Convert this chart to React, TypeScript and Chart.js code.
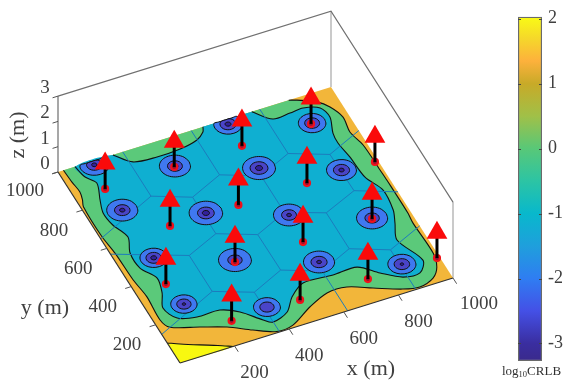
import React, { useEffect, useRef } from "react";
import { Chart, registerables } from "chart.js";

Chart.register(...registerables);

// ---------- axis ticks ----------
const xTicks = [200, 400, 600, 800, 1000];
const yTicks = [200, 400, 600, 800, 1000];
const zTicks = [0, 1, 2, 3];
const barTicks = [-3, -2, -1, 0, 1, 2];

// ---------- anchors (m) ----------
const anchorX = [240, 490, 738, 990, 111, 365, 612, 868, 237, 487, 739, 988, 111, 365, 613, 867];
const anchorY = [114, 112, 111, 109, 364, 366, 361, 368, 612, 611, 613, 613, 862, 864, 864, 866];
const anchorZ = 1;

// ---------- low-CRLB spots (m) ----------
const spotX = [127, 375, 622, 871, 125, 369, 622, 870, 122, 372, 622, 870, 125, 369, 613, 872];
const spotY = [252, 126, 252, 130, 495, 375, 498, 372, 746, 620, 744, 623, 982, 867, 978, 868];
const spotR2 = [44, 45, 52, 47, 46, 55, 52, 52, 52, 56, 55, 50, 50, 52, 48, 46];
const spotR3 = [24, 24, 27, 26, 26, 24, 25, 24, 26, 28, 30, 27, 26, 25, 27, 25];
const spotR4 = [6, 0, 8, 6, 10, 8, 8, 8, 9, 12, 12, 9, 9, 10, 10, 8];
const ringUX = [1, 0.87, 0.5, 0, -0.5, -0.87, -1, -0.87, -0.5, 0, 0.5, 0.87, 1];
const ringUY = [0, 0.5, 0.87, 1, 0.87, 0.5, 0, -0.5, -0.87, -1, -0.87, -0.5, 0];

// ---------- contours (m) ----------
const yellowX = [0, 37, 96, 150, 195];
const yellowY = [105, 83, 52, 25, 0];

const greenX = [20, 23, 28, 20, 10, 8, 16, 19, 28, 23, 39, 131, 214, 287, 357, 419, 506, 586, 658, 736, 825, 881, 939, 972, 988, 985, 989, 989, 988, 985, 970, 978, 958, 928, 870, 845];
const greenY = [1000, 937, 883, 844, 814, 660, 567, 426, 335, 215, 170, 130, 93, 45, 6, 12, 68, 106, 105, 65, 20, 6, 27, 70, 136, 294, 345, 518, 571, 703, 778, 852, 914, 954, 989, 1000];

const tealMainX = [710, 760, 824, 874, 926, 938, 916, 912, 921, 928, 958, 950, 930, 903, 943, 909, 849, 787, 728, 639, 532, 471, 427, 364, 338, 283, 225, 142, 79, 55, 82, 96, 63, 62, 87, 64, 58, 74, 97, 73, 62];
const tealMainY = [1000, 939, 942, 946, 923, 870, 796, 746, 669, 560, 479, 378, 319, 242, 119, 67, 72, 121, 178, 176, 182, 136, 77, 52, 75, 141, 177, 178, 200, 263, 330, 402, 469, 548, 621, 694, 760, 821, 899, 941, 1000];
const tealBumpX = [201, 249, 332, 418, 487, 521, 531];
const tealBumpY = [1000, 942, 931, 934, 951, 978, 1000];

// ---------- cell edges (m) ----------
const cellChains: number[][][] = [
  [[0, 238, 365, 489, 614, 740, 864, 1000], [150, 269, 208, 269, 208, 269, 208, 273]],
  [[0, 238, 362, 488, 613, 740, 868, 1000], [570, 457, 516, 455, 516, 457, 516, 451]],
  [[0, 237, 362, 488, 613, 739, 865, 1000], [650, 768, 707, 768, 707, 768, 707, 772]],
  [[365, 365], [0, 208]], [[614, 614], [0, 208]], [[864, 864], [0, 208]],
  [[238, 238], [269, 457]], [[489, 488], [269, 455]], [[740, 740], [269, 457]],
  [[362, 362], [516, 707]], [[613, 613], [516, 707]], [[868, 865], [516, 707]],
  [[237, 237], [768, 1000]], [[488, 488], [768, 1000]], [[739, 739], [768, 1000]],
];

// ---------- colour bar ----------
const barStops = [-3.27, -3, -2.5, -2, -1.5, -1, -0.5, 0, 0.5, 1, 1.35, 1.7, 2.03];
const barColors = ["#3a2a8c", "#3a2ea0", "#4450e6", "#2f7df2", "#1f9fdc", "#08b8cc", "#2cc4a4", "#58c878", "#a0c048", "#c8aa28", "#fdb13c", "#f5d82a", "#f9fb15"];

// ---------- colours ----------
const cOrange = "#f2b63a";
const cYellow = "#f8f810";
const cGreen = "#5bc97a";
const cTeal = "#0fafd1";
const cBlue = "#3f78f0";
const cIndigo = "#4a44c8";
const cDark = "#32209a";
const cCell = "#1c7cbd";
const cText = "#404040";

// ---------- 3-D view ----------
const view = { ox: 180, oy: 363, xx: 0.273, xy: -0.085, yx: -0.122, yy: -0.191, zy: -25.3 };
const project = (x: number, y: number, z = 0) => ({
  x: view.ox + view.xx * x + view.yx * y,
  y: view.oy + view.xy * x + view.yy * y + view.zy * z,
});
const path = (xs: number[], ys: number[], z = 0) => xs.map((x, i) => project(x, ys[i], z));
const SERIF = '"Liberation Serif"';

function mainDatasets() {
  const list: any[] = [];
  const area = (pts: any[], color: string, tension = 0.3) =>
    list.push({ data: pts, showLine: true, fill: "shape", backgroundColor: color, borderWidth: 0, borderColor: "rgba(0,0,0,0)", pointRadius: 0, tension });
  const line = (pts: any[], color: string, width: number, tension = 0) =>
    list.push({ data: pts, showLine: true, fill: false, borderColor: color, borderWidth: width, pointRadius: 0, tension });

  // box
  line([project(0, 1000, 0), project(0, 1000, 3)], "#8a8a8a", 1.5);
  line([project(1000, 1000, 0), project(1000, 1000, 3)], "#b8b8b8", 1.5);
  line([project(1000, 0, 0), project(1000, 0, 3)], "#b8b8b8", 1.5);
  line([project(0, 1000, 3), project(1000, 1000, 3), project(1000, 0, 3)], "#707070", 1.2);

  // surface
  area(path([0, 1000, 1000, 0], [0, 0, 1000, 1000]), cOrange, 0);
  area(path(yellowX.concat([0, 0]), yellowY.concat([0, 0])), cYellow);
  line(path(yellowX, yellowY), "#111", 1.1, 0.3);
  area(path(greenX, greenY), cGreen);
  line(path(greenX, greenY), "#111", 1.1, 0.3);
  area(path(tealMainX.concat(tealBumpX), tealMainY.concat(tealBumpY)), cTeal);
  line(path(tealMainX, tealMainY), "#111", 1.1, 0.3);
  line(path(tealBumpX, tealBumpY), "#111", 1.1, 0.3);

  cellChains.forEach(([xs, ys]) => line(path(xs, ys), cCell, 1));

  const ring = (i: number, r: number, color: string) => {
    const pts = ringUX.map((u, k) =>
      project(spotX[i] + r * u, Math.min(1000, spotY[i] + r * ringUY[k]))
    );
    area(pts, color, 0.35);
    line(pts, "#111", 1, 0.35);
  };
  spotX.forEach((_, i) => {
    ring(i, spotR2[i], cBlue);
    ring(i, spotR3[i], cIndigo);
    if (spotR4[i] > 0) ring(i, spotR4[i], cDark);
  });

  // floor edges
  line(path([0, 1000], [0, 0]), "#303030", 1.2);
  line(path([0, 0], [0, 1000]), "#303030", 1.2);

  // ticks
  xTicks.forEach((t) => line([project(t, 0), project(t, -30)], "#555", 1));
  yTicks.forEach((t) => line([project(0, t), project(-22, t)], "#555", 1));
  zTicks.forEach((t) => line([project(0, 1000, t), project(-20, 1000, t)], "#555", 1));

  // anchors: dot under the stem, then the stem, then the head
  list.push({
    data: path(anchorX, anchorY), showLine: false, pointRadius: 3, pointBorderWidth: 2.2,
    pointBackgroundColor: "#8a1030", pointBorderColor: "#f0101a",
  });
  anchorX.forEach((x, i) => {
    line([project(x, anchorY[i], 0), project(x, anchorY[i], anchorZ)], "#000", 3);
  });
  list.push({
    data: path(anchorX, anchorY, anchorZ), showLine: false, pointStyle: "triangle", pointRadius: 12,
    pointBorderWidth: 0, pointBackgroundColor: "#fa0a0a", pointBorderColor: "#fa0a0a",
  });
  list.forEach((d, i) => { d.order = list.length - i; });
  return list;
}

const axisText = {
  id: "axisText",
  afterDraw(chart: any) {
    const ctx = chart.ctx;
    const sx = chart.scales.x, sy = chart.scales.y;
    const put = (s: string, p: any, dx: number, dy: number, size = 19, rot = 0) => {
      ctx.save();
      ctx.font = `${size}px ${SERIF}`;
      ctx.fillStyle = cText;
      ctx.textAlign = "center";
      ctx.textBaseline = "middle";
      ctx.translate(sx.getPixelForValue(p.x) + dx, sy.getPixelForValue(p.y) + dy);
      if (rot) ctx.rotate(rot);
      ctx.fillText(s, 0, 0);
      ctx.restore();
    };
    xTicks.forEach((t) => put(String(t), project(t, 0), t === 1000 ? 26 : 20, t === 1000 ? 26 : 27));
    yTicks.forEach((t) => put(String(t), project(0, t), t === 1000 ? -33 : -28.5, t === 1000 ? 19 : 20.5));
    zTicks.forEach((t) => put(String(t), project(0, 1000, t), -13, -8));
    put("x (m)", { x: 371, y: 369 }, 0, 0, 22, 0);
    put("y (m)", { x: 45, y: 308 }, 0, 0, 22, 0);
    put("z (m)", { x: 18, y: 135 }, 0, 0, 22, -Math.PI / 2);
  },
};

const barDeco = {
  id: "barDeco",
  afterDraw(chart: any) {
    const ctx = chart.ctx;
    const { left, right } = chart.chartArea;
    const s = chart.scales.y;
    ctx.save();
    ctx.strokeStyle = "#444";
    ctx.lineWidth = 1;
    barTicks.forEach((t) => {
      const y = Math.round(s.getPixelForValue(t)) + 0.5;
      ctx.beginPath();
      ctx.moveTo(right - 3, y); ctx.lineTo(right, y);
      ctx.moveTo(left, y); ctx.lineTo(left + 3, y);
      ctx.stroke();
    });
    ctx.fillStyle = "#303030";
    ctx.textBaseline = "alphabetic";
    let x = 12;
    const y = 375;
    const run = (t: string, size: number, dy: number) => {
      ctx.font = `${size}px ${SERIF}`;
      ctx.fillText(t, x, y + dy);
      x += ctx.measureText(t).width;
    };
    run("log", 13, 0);
    run("10", 8.5, 2);
    run("CRLB", 13, 0);
    ctx.restore();
  },
};

export default function App() {
  const mainRef = useRef<HTMLCanvasElement | null>(null);
  const barRef = useRef<HTMLCanvasElement | null>(null);

  useEffect(() => {
    const main = new Chart(mainRef.current as any, {
      type: "scatter",
      data: { datasets: mainDatasets() },
      plugins: [axisText],
      options: {
        animation: false,
        responsive: false,
        layout: { padding: 0, autoPadding: false },
        plugins: { legend: { display: false }, tooltip: { enabled: false } },
        scales: {
          x: { type: "linear", display: false, min: 0, max: 566 },
          y: { type: "linear", display: false, min: 0, max: 383, reverse: true },
        },
      },
    } as any);

    const lo = -3.27, hi = 2.03;
    const bar = new Chart(barRef.current as any, {
      type: "bar",
      data: {
        labels: ["log10CRLB"],
        datasets: [{
          data: [[lo, hi]],
          barPercentage: 1,
          categoryPercentage: 1,
          borderWidth: 1.5,
          borderSkipped: false,
          borderColor: "#6a6a6a",
          backgroundColor: (c: any) => {
            const { chart } = c;
            if (!chart.chartArea) return barColors[0];
            const s = chart.scales.y;
            const g = chart.ctx.createLinearGradient(0, s.getPixelForValue(lo), 0, s.getPixelForValue(hi));
            barStops.forEach((v, i) => g.addColorStop((v - lo) / (hi - lo), barColors[i]));
            return g;
          },
        }],
      },
      plugins: [barDeco],
      options: {
        animation: false,
        responsive: false,
        layout: { padding: { left: 28, right: 0, top: 10, bottom: 22 }, autoPadding: false },
        plugins: { legend: { display: false }, tooltip: { enabled: false } },
        scales: {
          x: { display: false },
          y: {
            position: "right",
            min: lo,
            max: hi,
            afterBuildTicks: (s: any) => { s.ticks = barTicks.map((value) => ({ value })); },
            afterFit: (s: any) => { s.width = 24; },
            grid: { display: false, drawTicks: false },
            border: { display: false },
            ticks: {
              padding: 6,
              color: cText,
              font: { family: "Liberation Serif", size: 18 },
              callback: (v: any) => String(v),
              autoSkip: false,
            },
          },
        },
      },
    } as any);

    return () => { main.destroy(); bar.destroy(); };
  }, []);

  return (
    <div style={{ position: "absolute", left: 0, top: 0, width: 566, height: 383, background: "#fff" }}>
      <canvas ref={mainRef} width={566} height={383} style={{ position: "absolute", left: 0, top: 0 }} />
      <canvas ref={barRef} width={76} height={383} style={{ position: "absolute", left: 490, top: 0 }} />
    </div>
  );
}
